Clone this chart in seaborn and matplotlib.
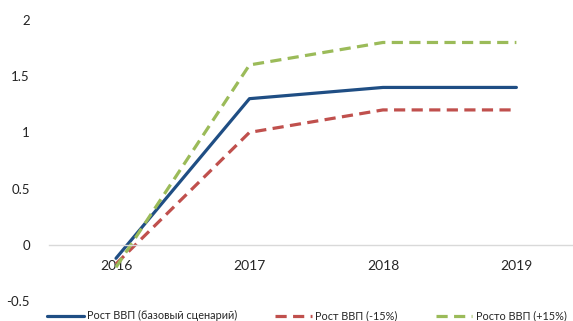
import matplotlib
matplotlib.use("Agg")
import matplotlib.pyplot as plt
import seaborn as sns
import pandas as pd
from matplotlib.lines import Line2D

years = ["2016", "2017", "2018", "2019"]
series_names = ["Рост ВВП (базовый сценарий)", "Рост ВВП (-15%)", "Росто ВВП (+15%)"]
base = [-0.12, 1.3, 1.4, 1.4]
minus15 = [-0.17, 1.0, 1.2, 1.2]
plus15 = [-0.2, 1.6, 1.8, 1.8]
y_ticks = [-0.5, 0, 0.5, 1, 1.5, 2]
y_tick_labels = ["-0.5", "0", "0.5", "1", "1.5", "2"]

colors = {series_names[0]: "#1F4E84", series_names[1]: "#C0504D", series_names[2]: "#9BBB59"}
dashes = {series_names[0]: "", series_names[1]: (3.5, 2.0), series_names[2]: (3.5, 2.0)}

rows = []
for name, vals in zip(series_names, [base, minus15, plus15]):
    for i, v in enumerate(vals):
        rows.append({"pos": i, "value": v, "series": name})
df = pd.DataFrame(rows)

sns.set_style("white")
plt.rcParams["font.family"] = ["Lato", "DejaVu Sans"]

fig = plt.figure(figsize=(5.73, 3.21), dpi=100)
ax = fig.add_axes([0.086, 0.0623, 0.92, 0.8754])

sns.lineplot(data=df, x="pos", y="value", hue="series", style="series",
             palette=colors, dashes=dashes, linewidth=2.3, ax=ax, legend=False)

ax.set_xlim(-0.5, 3.45)
ax.set_ylim(-0.5, 2)
ax.set_yticks(y_ticks)
ax.set_yticklabels(y_tick_labels, fontsize=9.5, color="#222222")
ax.set_xticks(range(len(years)))
ax.set_xticklabels(years, fontsize=9.5, color="#222222")
ax.set_xlabel("")
ax.set_ylabel("")

for s in ["top", "right", "left"]:
    ax.spines[s].set_visible(False)
ax.spines["bottom"].set_position(("data", 0))
ax.spines["bottom"].set_color("#D9D9D9")
ax.spines["bottom"].set_linewidth(1.0)
ax.tick_params(axis="x", length=0, pad=11)
ax.tick_params(axis="y", length=0, pad=14)
for lab in ax.get_yticklabels():
    lab.set_horizontalalignment("right")

handles = [Line2D([], [], color=colors[n], linewidth=2.3,
                  linestyle="-" if dashes[n] == "" else (0, dashes[n]))
           for n in series_names]
leg = fig.legend(handles, series_names, loc="center left", bbox_to_anchor=(0.082, 0.016),
                 ncol=3, frameon=False, fontsize=7.8, handlelength=3.4, handletextpad=0.3,
                 columnspacing=3.5, borderpad=0, borderaxespad=0)

fig.savefig("out.png", dpi=100)
